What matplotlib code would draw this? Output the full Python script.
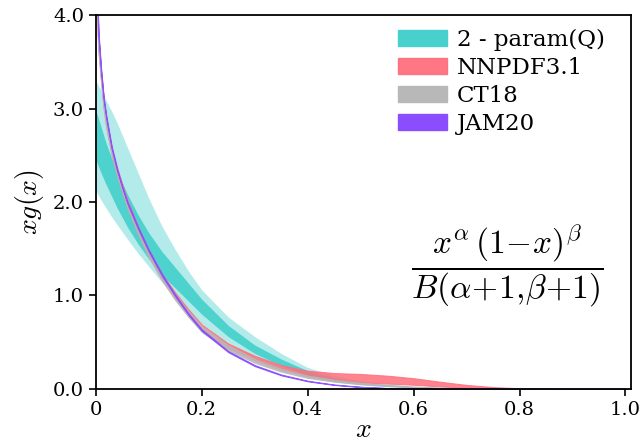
import matplotlib
matplotlib.use("Agg")
import matplotlib.pyplot as plt
import numpy as np
from matplotlib.patches import Patch

plt.rcParams['font.family'] = ['DejaVu Serif']
plt.rcParams['mathtext.fontset'] = 'cm'

# ---- data ----
x_q = [0.0, 0.01, 0.02, 0.03, 0.04, 0.06, 0.08, 0.10, 0.125, 0.15, 0.175, 0.20, 0.25,
       0.30, 0.35, 0.40, 0.45, 0.50, 0.55, 0.60, 0.65, 0.70, 0.80, 0.90, 1.0]
q_outer_lo = [2.12, 2.02, 1.93, 1.84, 1.76, 1.60, 1.45, 1.31, 1.14, 0.98, 0.83, 0.70,
              0.48, 0.32, 0.20, 0.12, 0.075, 0.045, 0.025, 0.013, 0.006, 0.002, 0.0,
              0.0, 0.0]
q_outer_hi = [3.30, 3.19, 3.08, 2.97, 2.85, 2.58, 2.31, 2.04, 1.74, 1.49, 1.26, 1.06,
              0.77, 0.56, 0.38, 0.23, 0.145, 0.09, 0.053, 0.03, 0.016, 0.008, 0.001,
              0.0, 0.0]
q_inner_lo = [2.45, 2.31, 2.18, 2.06, 1.94, 1.73, 1.55, 1.39, 1.22, 1.08, 0.94, 0.80,
              0.56, 0.38, 0.25, 0.14, 0.085, 0.05, 0.03, 0.016, 0.008, 0.003, 0.0,
              0.0, 0.0]
q_inner_hi = [2.98, 2.80, 2.62, 2.47, 2.33, 2.08, 1.86, 1.67, 1.47, 1.30, 1.13, 0.96,
              0.68, 0.47, 0.32, 0.195, 0.12, 0.072, 0.042, 0.024, 0.013, 0.006, 0.001,
              0.0, 0.0]

x_g = [0.001, 0.005, 0.01, 0.015, 0.02, 0.03, 0.04, 0.05, 0.06, 0.08, 0.10, 0.125,
       0.15, 0.175, 0.20, 0.25, 0.30, 0.35, 0.40, 0.45, 0.50, 0.55, 0.60, 0.65,
       0.70, 0.75, 0.80, 0.90, 1.0]
nnpdf = [4.30, 3.70, 3.35, 3.05, 2.85, 2.55, 2.33, 2.15, 1.98, 1.70, 1.45, 1.20,
         1.00, 0.82, 0.66, 0.46, 0.33, 0.23, 0.165, 0.13, 0.115, 0.10, 0.08, 0.052,
         0.028, 0.012, 0.004, 0.0, 0.0]
nnpdf_err = [0.15, 0.08, 0.06, 0.05, 0.05, 0.04, 0.04, 0.04, 0.04, 0.035, 0.03, 0.03,
             0.03, 0.03, 0.03, 0.025, 0.025, 0.025, 0.03, 0.04, 0.045, 0.042, 0.035, 0.025,
             0.015, 0.008, 0.003, 0.0, 0.0]
ct18 = [4.30, 3.68, 3.33, 3.04, 2.84, 2.54, 2.32, 2.14, 1.97, 1.69, 1.44, 1.19,
        0.98, 0.80, 0.64, 0.44, 0.30, 0.20, 0.13, 0.088, 0.058, 0.037, 0.021, 0.011,
        0.005, 0.002, 0.0, 0.0, 0.0]
ct18_err = [0.15, 0.08, 0.06, 0.05, 0.05, 0.04, 0.04, 0.04, 0.04, 0.035, 0.03, 0.03,
            0.03, 0.03, 0.03, 0.025, 0.02, 0.015, 0.012, 0.01, 0.008, 0.006, 0.004, 0.003,
            0.002, 0.001, 0.0, 0.0, 0.0]
jam20 = [4.50, 3.80, 3.40, 3.10, 2.90, 2.58, 2.35, 2.16, 1.99, 1.72, 1.48, 1.22,
         1.00, 0.80, 0.63, 0.40, 0.25, 0.15, 0.085, 0.045, 0.022, 0.009, 0.003, 0.001,
         0.0, 0.0, 0.0, 0.0, 0.0]
jam20_err = [0.05, 0.03, 0.02, 0.015, 0.015, 0.012, 0.012, 0.01, 0.01, 0.01, 0.01, 0.01,
             0.008, 0.008, 0.008, 0.006, 0.005, 0.004, 0.003, 0.002, 0.001, 0.0, 0.0, 0.0,
             0.0, 0.0, 0.0, 0.0, 0.0]

labels = ['2 - param(Q)', 'NNPDF3.1', 'CT18', 'JAM20']
xticks = [0, 0.2, 0.4, 0.6, 0.8, 1.0]
xticklabels = ['0', '0.2', '0.4', '0.6', '0.8', '1.0']
yticks = [0.0, 1.0, 2.0, 3.0, 4.0]
yticklabels = ['0.0', '1.0', '2.0', '3.0', '4.0']

c_q = '#48D1CC'
c_nn = '#FF6F7D'
c_ct = '#B8B8B8'
c_jam = '#8A4DFF'

fig = plt.figure(figsize=(6.43, 4.44), dpi=100)
ax = fig.add_axes([0.149, 0.124, 0.832, 0.842])

ax.fill_between(x_q, q_outer_lo, q_outer_hi, color=c_q, alpha=0.42, lw=0)
ax.fill_between(x_q, q_inner_lo, q_inner_hi, color=c_q, alpha=0.95, lw=0)

g = np.array(x_g)
for cen, err, col, a in [(nnpdf, nnpdf_err, c_nn, 0.85), (ct18, ct18_err, c_ct, 0.85),
                         (jam20, jam20_err, c_jam, 0.9)]:
    cen = np.array(cen); err = np.array(err)
    ax.fill_between(g, cen - err, cen + err, color=col, alpha=a, lw=0.8,
                    edgecolor=col)

handles = [Patch(color=c_q), Patch(color=c_nn, alpha=0.95), Patch(color=c_ct),
           Patch(color=c_jam)]
ax.legend(handles, labels, loc='upper left', frameon=False, fontsize=16.5,
          handlelength=2.15, handleheight=0.7, labelspacing=0.25,
          handletextpad=0.4, borderaxespad=0.0, borderpad=0.0,
          bbox_to_anchor=(0.565, 0.962))

ax.text(0.77, 0.33, r'$\dfrac{x^{\alpha}\,(1\!-\!x)^{\beta}}{B(\alpha\!+\!1,\!\beta\!+\!1)}$',
        transform=ax.transAxes, ha='center', va='center', fontsize=24)

ax.set_xlim(0, 1.01)
ax.set_ylim(0, 4.0)
ax.set_xticks(xticks)
ax.set_xticklabels(xticklabels)
ax.set_yticks(yticks)
ax.set_yticklabels(yticklabels)
ax.tick_params(labelsize=14, direction='out', length=5, width=1.2)
for s in ax.spines.values():
    s.set_linewidth(1.3)
ax.set_xlabel(r'$x$', fontsize=20, labelpad=-2)
ax.set_ylabel(r'$xg(x)$', fontsize=20, labelpad=5)

fig.savefig('out.png', dpi=100)
